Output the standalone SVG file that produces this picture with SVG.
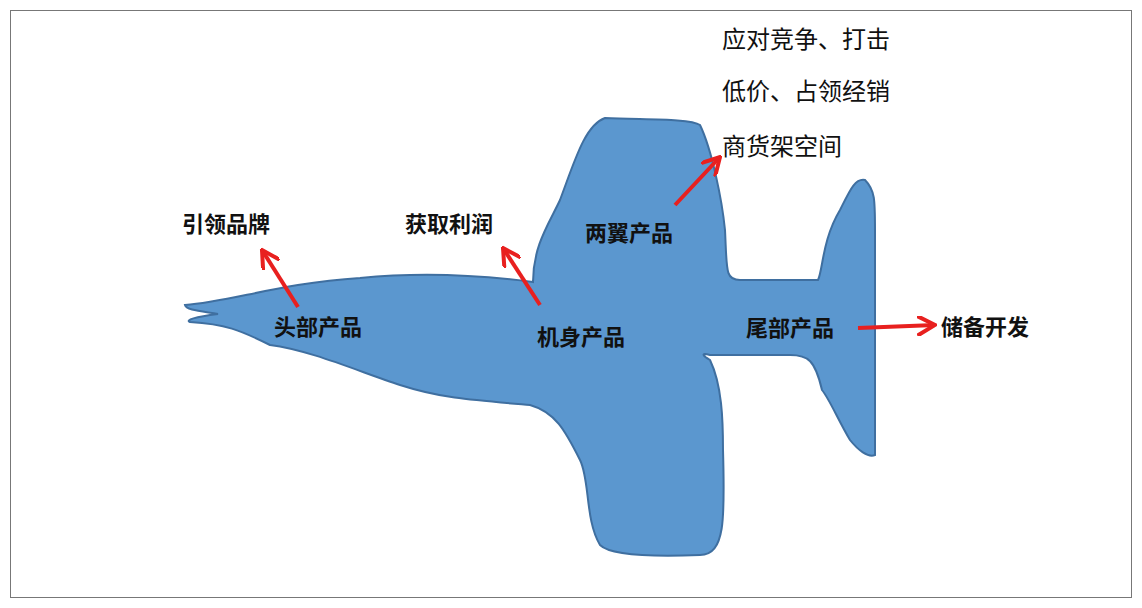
<svg xmlns="http://www.w3.org/2000/svg" width="1142" height="608" viewBox="0 0 1142 608">
<defs>
<style>
.t{font-family:"Noto Sans CJK SC","Noto Sans",sans-serif;font-weight:bold;font-size:22px;fill:#111}
.a{stroke:#e8201f;stroke-width:4;fill:none;marker-end:url(#h)}
</style>
<marker id="h" viewBox="0 0 10 10" refX="9" refY="5" markerWidth="5" markerHeight="5" orient="auto" markerUnits="strokeWidth"><path d="M0,0 L9,5 L0,10" fill="none" stroke="#e8201f" stroke-width="2"/></marker>
</defs>
<rect width="1142" height="608" fill="#fff"/>
<rect x="10.5" y="10.5" width="1121" height="587" fill="none" stroke="#777" stroke-width="1"/>
<g id="plane">
<path d="M185,305 C230,302 280,283 360,278 C420,272 480,275 533,282 C533,245 550,222 560,200 C575,160 585,125 605,118 C640,120 690,118 700,125 C712,150 722,200 725,230 C727,270 725,280 740,280 L818,280 C823,270 822,240 840,210 C850,190 855,178 865,180 C875,190 875,200 875,230 L875,455 C868,458 858,450 850,440 C838,420 830,400 822,390 C815,360 808,355 790,355 L710,355 C700,352 703,356 710,360 C722,385 723,420 723,450 C725,520 725,555 700,555 C650,557 610,555 600,545 C585,520 590,480 580,460 C565,430 555,412 530,405 C470,400 440,398 400,385 C360,372 310,350 270,345 C240,330 225,324 190,322 C185,320 195,317 218,314 C200,311 186,310 185,305 Z" fill="#5b97cf" stroke="#3f6fa0" stroke-width="2"/>
</g>
<g id="connectors">
<line class="a" x1="298" y1="307" x2="262" y2="250"/>
<line class="a" x1="540" y1="305" x2="503" y2="248"/>
<line class="a" x1="675" y1="205" x2="720" y2="157"/>
<line class="a" x1="858" y1="328" x2="935" y2="325"/>
</g>
<g id="labels">
<text class="t" x="182" y="232">引领品牌</text>
<text class="t" x="405" y="232">获取利润</text>
<text class="t" x="585" y="241">两翼产品</text>
<text class="t" x="274" y="335">头部产品</text>
<text class="t" x="537" y="345">机身产品</text>
<text class="t" x="746" y="336">尾部产品</text>
<text class="t" x="941" y="335">储备开发</text>
<text class="t" x="722" y="48" style="font-weight:normal;font-size:24px">应对竞争、打击</text>
<text class="t" x="722" y="100" style="font-weight:normal;font-size:24px">低价、占领经销</text>
<text class="t" x="722" y="155" style="font-weight:normal;font-size:24px">商货架空间</text>
</g>
</svg>
